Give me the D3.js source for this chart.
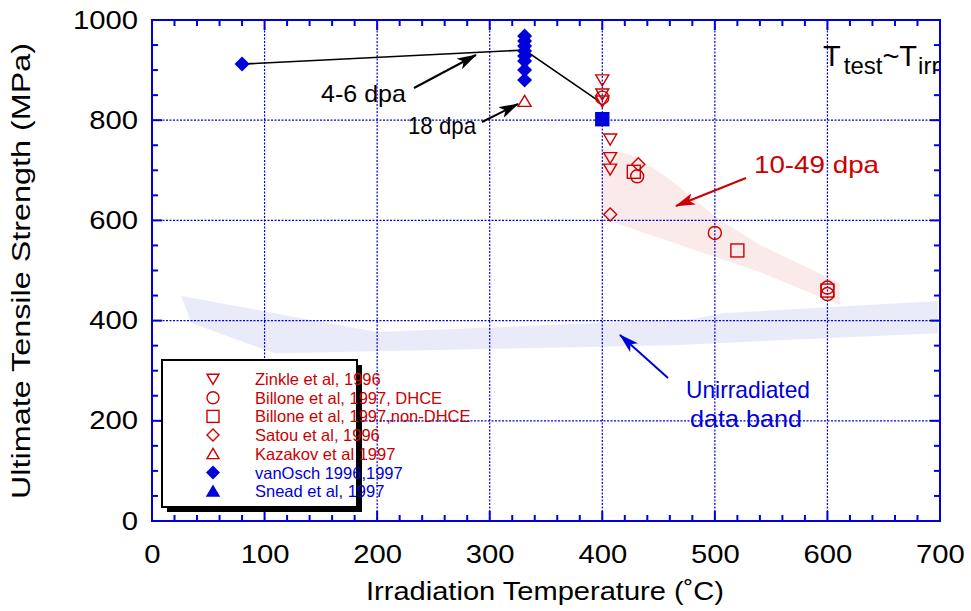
<!DOCTYPE html>
<html><head><meta charset="utf-8">
<script src="https://cdn.jsdelivr.net/npm/d3@7"></script>
<style>body{margin:0;background:#fff;}svg{display:block;font-family:"Liberation Sans",Arial,sans-serif;}</style>
</head><body>
<svg id="c" width="971" height="611"></svg>
<script>
// ---- data ----
const xTicks = [0,100,200,300,400,500,600,700];
const yTicks = [0,200,400,600,800,1000];
const zinkle = [[400,880],[400,852],[400,838],[407,762],[407,725],[407,702]];
const billoneDHCE = [[400,845],[431,688],[500,575],[600,466],[600,453]];
const billoneNon = [[428,697],[520,540],[600,460]];
const satou = [[407,612],[432,712]];
const kazakov = [[331,838]];
const vanOsch = [[80,912],[331,968],[331,958],[331,948],[331,938],[331,928],[331,918],[331,900],[331,880]];
const snead = [[400,802]];
const vanOschLine = [[80,912],[331,940],[397,838]];
const bandRed = [[400,745],[427,730],[457,687],[502,605],[540,551],[611,475],[611,431],[540,497],[469,551],[409,597],[400,611]];
const bandBlue = [[26,449],[200,377],[481,403],[509,415],[698,439],[698,375],[463,351],[109,335],[35,395]];
const legendItems = [
  ["Zinkle et al, 1996","tri-down","red"],
  ["Billone et al, 1997, DHCE","circle","red"],
  ["Billone et al, 1997,non-DHCE","square","red"],
  ["Satou et al, 1996","diamond","red"],
  ["Kazakov et al 1997","tri-up","red"],
  ["vanOsch 1996,1997","diamond-f","blue"],
  ["Snead et al, 1997","tri-up-f","blue"]
];

const RED="#cc0000", BLUE="#0000dd", AX="#0000dd";
const svg=d3.select("#c");
const L=152,R=940,T=20,B=521;
const x=d3.scaleLinear().domain([0,700]).range([L,R]);
const y=d3.scaleLinear().domain([0,1000]).range([B,T]);

const defs=svg.append("defs");
defs.append("clipPath").attr("id","pc").append("rect")
  .attr("x",L).attr("y",T).attr("width",R-L-1).attr("height",B-T);

// bands
const line=d3.line().x(d=>x(d[0])).y(d=>y(d[1]));
svg.append("path").attr("d",line(bandBlue)+"Z").attr("fill","#e9ebf9");
svg.append("path").attr("d",line(bandRed)+"Z").attr("fill","#fbeaea");

// grid
const g=svg.append("g");
xTicks.slice(1,-1).forEach(t=>g.append("line").attr("x1",x(t)).attr("x2",x(t)).attr("y1",T).attr("y2",B)
  .attr("stroke",BLUE).attr("stroke-width",1.2).attr("stroke-dasharray","2,1.5"));
yTicks.slice(1,-1).forEach(t=>g.append("line").attr("y1",y(t)).attr("y2",y(t)).attr("x1",L).attr("x2",R)
  .attr("stroke",BLUE).attr("stroke-width",1.2).attr("stroke-dasharray","2,1.5"));

// axes (ticks inward on all four sides)
const xMinor=d3.range(0,701,20), yMinor=d3.range(0,1001,50);
const a=svg.append("g").attr("stroke",AX).attr("stroke-width",2);
xMinor.forEach(t=>{
  const len = t%100===0?10:6;
  a.append("line").attr("x1",x(t)).attr("x2",x(t)).attr("y1",B).attr("y2",B-len);
  a.append("line").attr("x1",x(t)).attr("x2",x(t)).attr("y1",T).attr("y2",T+len);
});
yMinor.forEach(t=>{
  const len = t%200===0?10:6;
  a.append("line").attr("y1",y(t)).attr("y2",y(t)).attr("x1",L).attr("x2",L+len);
  a.append("line").attr("y1",y(t)).attr("y2",y(t)).attr("x1",R).attr("x2",R-len);
});
a.append("rect").attr("x",L).attr("y",T).attr("width",R-L).attr("height",B-T).attr("fill","none");

// tick labels via d3 axes (lines hidden)
const FS=25, SX=1.17;
const xa=svg.append("g").attr("transform",`translate(0,${B})`)
  .call(d3.axisBottom(x).tickValues(xTicks).tickSize(0).tickPadding(24).tickFormat(d3.format("d")));
const ya=svg.append("g").attr("transform",`translate(${L},0)`)
  .call(d3.axisLeft(y).tickValues(yTicks).tickSize(0).tickPadding(14).tickFormat(d3.format("d")));
[xa,ya].forEach(ax=>{ax.select(".domain").remove();ax.selectAll("text").attr("font-size",FS).attr("fill","#000")
  .attr("font-family","Liberation Sans, Arial, sans-serif");});
xa.selectAll("text").attr("transform",`scale(${SX},1)`);
ya.selectAll("text").attr("x",0).attr("transform",`translate(-14,0) scale(${SX},1)`);

svg.append("text").attr("x",545).attr("y",600).attr("text-anchor","middle").attr("font-size",FS)
  .attr("textLength",358).attr("lengthAdjust","spacingAndGlyphs").text("Irradiation Temperature (˚C)");
svg.append("text").attr("transform","translate(30,271) rotate(-90)").attr("text-anchor","middle").attr("font-size",FS)
  .attr("textLength",456).attr("lengthAdjust","spacingAndGlyphs").text("Ultimate Tensile Strength (MPa)");

// connecting line
svg.append("path").attr("d",line(vanOschLine)).attr("fill","none").attr("stroke","#000").attr("stroke-width",1.6);

// symbols
function sym(sel,type,cx,cy,col,s){
  s=s||6.5;
  let el;
  switch(type){
    case "tri-down": el=sel.append("path").attr("d",`M${cx-s},${cy-s*0.8}L${cx+s},${cy-s*0.8}L${cx},${cy+s*0.9}Z`);break;
    case "tri-up": case "tri-up-f": el=sel.append("path").attr("d",`M${cx-s},${cy+s*0.8}L${cx+s},${cy+s*0.8}L${cx},${cy-s*0.9}Z`);break;
    case "circle": el=sel.append("circle").attr("cx",cx).attr("cy",cy).attr("r",s);break;
    case "square": case "square-f": el=sel.append("rect").attr("x",cx-s).attr("y",cy-s).attr("width",2*s).attr("height",2*s);break;
    case "diamond": case "diamond-f": el=sel.append("path").attr("d",`M${cx},${cy-s}L${cx+s},${cy}L${cx},${cy+s}L${cx-s},${cy}Z`);break;
  }
  const filled=type.endsWith("-f");
  el.attr("fill",filled?col:"none").attr("stroke",col).attr("stroke-width",1.4);
}
const pts=svg.append("g");
zinkle.forEach(d=>sym(pts,"tri-down",x(d[0]),y(d[1]),RED));
billoneDHCE.forEach(d=>sym(pts,"circle",x(d[0]),y(d[1]),RED));
billoneNon.forEach(d=>sym(pts,"square",x(d[0]),y(d[1]),RED));
satou.forEach(d=>sym(pts,"diamond",x(d[0]),y(d[1]),RED));
kazakov.forEach(d=>sym(pts,"tri-up",x(d[0]),y(d[1]),RED));
vanOsch.forEach(d=>sym(pts,"diamond-f",x(d[0]),y(d[1]),BLUE));
snead.forEach(d=>sym(pts,"square-f",x(d[0]),y(d[1]),BLUE));

// arrows
function mk(id,col){
  defs.append("marker").attr("id",id).attr("viewBox","0 0 20 12").attr("refX",19).attr("refY",6)
    .attr("markerWidth",20).attr("markerHeight",12).attr("markerUnits","userSpaceOnUse").attr("orient","auto")
    .append("path").attr("d","M0,0L20,6L0,12L5,6Z").attr("fill",col);
}
mk("ak","#000");mk("ar",RED);mk("ab",BLUE);
function arrow(x1,y1,x2,y2,col,m){svg.append("line").attr("x1",x1).attr("y1",y1).attr("x2",x2).attr("y2",y2)
  .attr("stroke",col).attr("stroke-width",2).attr("marker-end",`url(#${m})`);}
arrow(414,88,476,55,"#000","ak");
arrow(482,122,518,104,"#000","ak");
arrow(746,178,676,206,RED,"ar");
arrow(668,378,620,335,BLUE,"ab");

// annotations
svg.append("text").attr("x",321).attr("y",102).attr("font-size",24).attr("textLength",85).attr("lengthAdjust","spacingAndGlyphs").text("4-6 dpa");
svg.append("text").attr("x",408).attr("y",134).attr("font-size",24).attr("textLength",68).attr("lengthAdjust","spacingAndGlyphs").text("18 dpa");
svg.append("text").attr("x",754).attr("y",173).attr("font-size",24).attr("fill",RED).attr("textLength",125).attr("lengthAdjust","spacingAndGlyphs").text("10-49 dpa");
svg.append("text").attr("x",686).attr("y",398).attr("font-size",24).attr("fill",BLUE).attr("textLength",124).attr("lengthAdjust","spacingAndGlyphs").text("Unirradiated");
svg.append("text").attr("x",690).attr("y",427).attr("font-size",24).attr("fill",BLUE).attr("textLength",112).attr("lengthAdjust","spacingAndGlyphs").text("data band");
const tt=svg.append("text").attr("x",823).attr("y",66).attr("font-size",29).attr("clip-path","url(#pc)");
tt.append("tspan").text("T");
tt.append("tspan").attr("font-size",24).attr("dx",3).attr("dy",8).text("test");
tt.append("tspan").attr("dy",-8).text("~T");
tt.append("tspan").attr("font-size",24).attr("dx",1).attr("dy",8).text("irr");

// legend
const lg=svg.append("g");
lg.append("rect").attr("x",167).attr("y",365).attr("width",195).attr("height",147).attr("fill","#000");
lg.append("rect").attr("x",162).attr("y",360).attr("width",195).attr("height",147).attr("fill","#fff").attr("stroke","#000").attr("stroke-width",2);
legendItems.forEach((it,i)=>{
  const cy=379+i*18.7;
  const col=it[2]==="red"?RED:BLUE;
  sym(lg,it[1],213,cy,col,6);
  lg.append("text").attr("x",255).attr("y",cy+6).attr("font-size",16.5).attr("fill",col).text(it[0]);
});
</script></body></html>
